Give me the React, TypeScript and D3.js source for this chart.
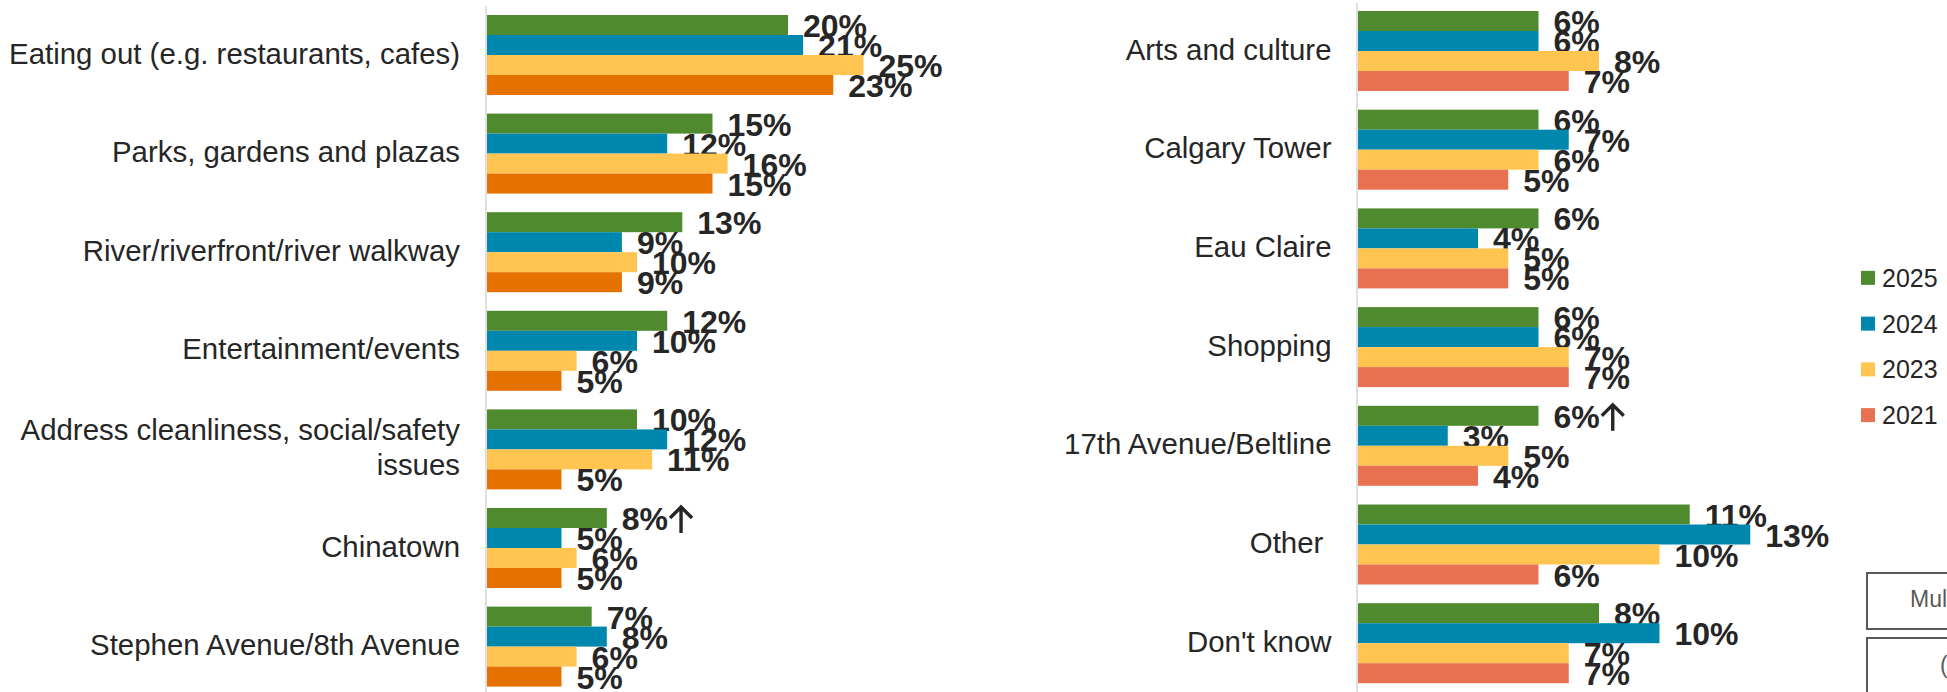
import { scaleBand, scaleLinear } from 'd3';

const years = ['2025', '2024', '2023', '2021'];

const leftCategories = [
  'Eating out (e.g. restaurants, cafes)',
  'Parks, gardens and plazas',
  'River/riverfront/river walkway',
  'Entertainment/events',
  'Address cleanliness, social/safety issues',
  'Chinatown',
  'Stephen Avenue/8th Avenue',
];
const left2025 = [20, 15, 13, 12, 10, 8, 7];
const left2024 = [21, 12, 9, 10, 12, 5, 8];
const left2023 = [25, 16, 10, 6, 11, 6, 6];
const left2021 = [23, 15, 9, 5, 5, 5, 5];
const leftUp = ['Chinatown'];

const rightCategories = [
  'Arts and culture',
  'Calgary Tower',
  'Eau Claire',
  'Shopping',
  '17th Avenue/Beltline',
  'Other ',
  "Don't know",
];
const right2025 = [6, 6, 6, 6, 6, 11, 8];
const right2024 = [6, 7, 4, 6, 3, 13, 10];
const right2023 = [8, 6, 5, 7, 5, 10, 7];
const right2021 = [7, 5, 5, 7, 4, 6, 7];
const rightUp = ['17th Avenue/Beltline'];

const leftColors = ['#4F8B2E', '#0087AD', '#FFC550', '#E57200'];
const rightColors = ['#4F8B2E', '#0087AD', '#FFC550', '#E77151'];
const legendColors = rightColors;

const boxTexts = ['Multiple mentions', '(Top mentions)'];

const W = 1947;
const H = 692;
const textColor = '#262626';
const font = '"Liberation Sans", Arial, sans-serif';
const labelSize = 32;

// wrap category text at a character limit
function wrap(s: string, max = 36) {
  const words = s.split(' ');
  const lines: string[] = [];
  let cur = '';
  words.forEach((w) => {
    const next = cur ? cur + ' ' + w : w;
    if (next.length > max && cur) {
      lines.push(cur);
      cur = w;
    } else cur = next;
  });
  if (cur) lines.push(cur);
  return lines;
}

// rough width of "12%" in bold Arial metrics
const labelWidth = (v: number) => (String(v).length * 0.556 + 0.889) * labelSize;

type PanelProps = {
  categories: string[];
  series: number[][];
  colors: string[];
  up: string[];
  x0: number;
  pxPerPct: number;
  maxVal: number;
  yTop: number;
  step: number;
  labelX: number;
  axisTop: number;
};

const Panel = ({ categories, series, colors, up, x0, pxPerPct, maxVal, yTop, step, labelX, axisTop }: PanelProps) => {
  const groupH = 80;
  const y = scaleBand<string>()
    .domain(categories)
    .range([yTop, yTop + (categories.length - 1) * step + groupH])
    .paddingInner((step - groupH) / step)
    .paddingOuter(0);
  const yi = scaleBand<string>().domain(years).range([0, y.bandwidth()]);
  const x = scaleLinear().domain([0, maxVal]).range([x0, x0 + maxVal * pxPerPct]);

  return (
    <g>
      <line x1={x0} x2={x0} y1={axisTop} y2={H} stroke="#D9D9D9" strokeWidth={1.6} />
      {categories.map((c, ci) => {
        const gy = y(c)!;
        const lines = wrap(c);
        const cy = gy + y.bandwidth() / 2 + 8.5;
        const lh = 35;
        return (
          <g key={c}>
            <text
              x={labelX}
              textAnchor="end"
              fontFamily={font}
              fontSize={29.4}
              fill={textColor}
              style={{ whiteSpace: 'pre' }}
            >
              {lines.map((l, li) => (
                <tspan key={li} x={labelX} y={cy + (li - (lines.length - 1) / 2) * lh}>
                  {l}
                </tspan>
              ))}
            </text>
            {years.map((yr, si) => {
              const v = series[si][ci];
              const by = gy + yi(yr)!;
              const bw = yi.bandwidth();
              const lx = x(v) + 15;
              const mid = by + bw / 2;
              const arrow = si === 0 && up.includes(c);
              const ax = lx + labelWidth(v) + 13;
              return (
                <g key={yr}>
                  <rect x={x0 + 1} y={by} width={x(v) - x0 - 1} height={bw} fill={colors[si]} />
                  <text x={lx} y={mid + 12} fontFamily={font} fontWeight="bold" fontSize={labelSize} fill={textColor}>
                    {v}%
                  </text>
                  {arrow && (
                    <path
                      d={`M${ax},${mid + 15} V${mid - 11} M${ax - 11},${mid} L${ax},${mid - 11} L${ax + 11},${mid}`}
                      fill="none"
                      stroke={textColor}
                      strokeWidth={3.4}
                    />
                  )}
                </g>
              );
            })}
          </g>
        );
      })}
    </g>
  );
};

export default function App() {
  const legendY = scaleBand<string>().domain(years).range([255, 438]);
  return (
    <div style={{ position: 'absolute', left: 0, top: 0, width: W, height: H, overflow: 'hidden', background: '#fff' }}>
      <svg width={W} height={H} style={{ display: 'block' }}>
        <Panel
          categories={leftCategories}
          series={[left2025, left2024, left2023, left2021]}
          colors={leftColors}
          up={leftUp}
          x0={486}
          pxPerPct={15.1}
          maxVal={25}
          yTop={15}
          step={98.6}
          labelX={460}
          axisTop={6}
        />
        <Panel
          categories={rightCategories}
          series={[right2025, right2024, right2023, right2021]}
          colors={rightColors}
          up={rightUp}
          x0={1357}
          pxPerPct={30.25}
          maxVal={13}
          yTop={11}
          step={98.7}
          labelX={1331.5}
          axisTop={3}
        />
        {years.map((yr, i) => {
          const cy = legendY(yr)! + legendY.bandwidth() / 2;
          return (
            <g key={yr}>
              <rect x={1861} y={cy - 7} width={14} height={14} fill={legendColors[i]} />
              <text x={1882} y={cy + 9} fontFamily={font} fontSize={25} fill={textColor}>
                {yr}
              </text>
            </g>
          );
        })}
        <rect x={1867} y={573} width={200} height={56} fill="none" stroke="#595959" strokeWidth={2} />
        <text x={1910} y={607} fontFamily={font} fontSize={23} fill="#595959">
          {boxTexts[0]}
        </text>
        <rect x={1867} y={638} width={200} height={80} fill="none" stroke="#595959" strokeWidth={2} />
        <text x={1940} y={673} fontFamily={font} fontSize={23} fill="#595959">
          {boxTexts[1]}
        </text>
      </svg>
    </div>
  );
}
